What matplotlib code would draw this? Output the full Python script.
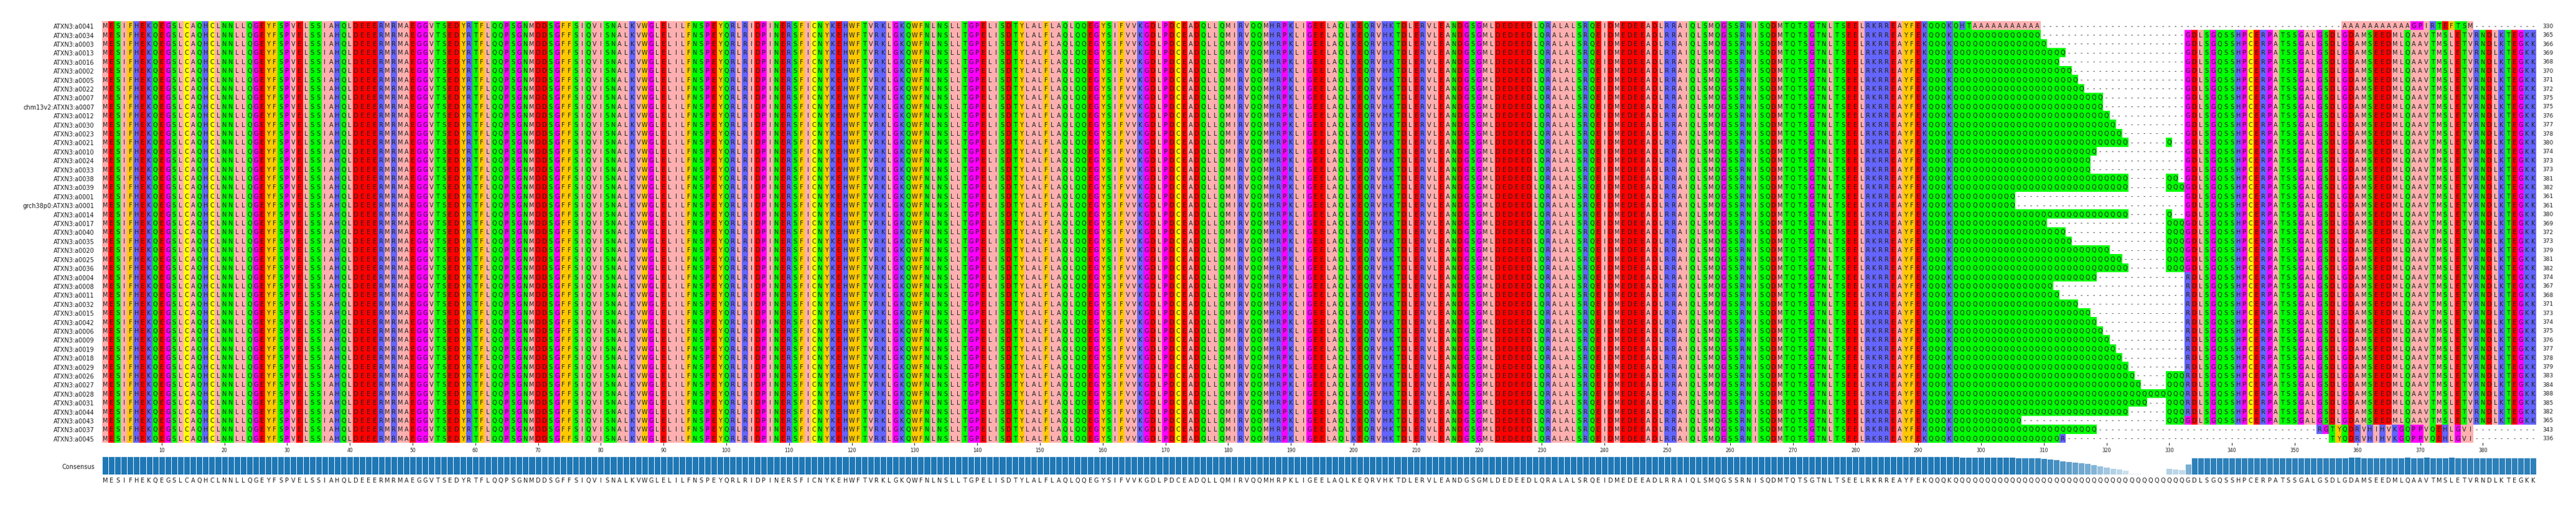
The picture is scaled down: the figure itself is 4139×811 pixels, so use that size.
import matplotlib
matplotlib.use("Agg")
import matplotlib.pyplot as plt
import numpy as np
from collections import Counter

W, H = 4139, 812
prefix = ("MESIFHEKQEGSLCAQHCLNNLLQGEYFSPVELSSIAHQLDEEERMRMAEGGVTSEDYRTFLQQPSGNMD"
          "DSGFFSIQVISNALKVWGLELILFNSPEYQRLRIDPINERSFICNYKEHWFTVRKLGKQWFNLNSLLTGP"
          "ELISDTYLALFLAQLQQEGYSIFVVKGDLPDCEADQLLQMIRVQQMHRPKLIGEELAQLKEQRVHKTDLE"
          "RVLEANDGSGMLDEDEEDLQRALALSRQEIDMEDEEADLRRAIQLSMQGSSRNISQDMTQTSGTNLTSEE"
          "LRKRREAYFEKQQQK")
tail_G = "GDLSGQSSHPCERPATSSGALGSDLGDAMSEEDMLQAAVTMSLETVRNDLKTEGKK"
tail_R = "R" + tail_G[1:]
NCOL = 388

labels = ["ATXN3:a0041", "ATXN3:a0034", "ATXN3:a0003", "ATXN3:a0013", "ATXN3:a0016",
          "ATXN3:a0002", "ATXN3:a0005", "ATXN3:a0022", "ATXN3:a0007", "chm13v2:ATXN3:a0007",
          "ATXN3:a0012", "ATXN3:a0030", "ATXN3:a0023", "ATXN3:a0021", "ATXN3:a0010",
          "ATXN3:a0024", "ATXN3:a0033", "ATXN3:a0038", "ATXN3:a0039", "ATXN3:a0001",
          "grch38p0:ATXN3:a0001", "ATXN3:a0014", "ATXN3:a0017", "ATXN3:a0040", "ATXN3:a0035",
          "ATXN3:a0020", "ATXN3:a0025", "ATXN3:a0036", "ATXN3:a0004", "ATXN3:a0008",
          "ATXN3:a0011", "ATXN3:a0032", "ATXN3:a0015", "ATXN3:a0042", "ATXN3:a0006",
          "ATXN3:a0009", "ATXN3:a0019", "ATXN3:a0018", "ATXN3:a0029", "ATXN3:a0026",
          "ATXN3:a0027", "ATXN3:a0028", "ATXN3:a0031", "ATXN3:a0044", "ATXN3:a0043",
          "ATXN3:a0037", "ATXN3:a0045"]
lengths = [330, 365, 366, 369, 368, 370, 371, 372, 375, 375, 376, 377, 378, 380, 374,
           373, 373, 381, 382, 361, 361, 380, 369, 372, 373, 379, 381, 382, 374, 367,
           368, 371, 373, 374, 375, 376, 377, 378, 379, 383, 384, 388, 385, 382, 365,
           343, 336]
extras = ["*", "", "", "", "", "", "", "", "", "", "", "", "", "Q--", "", "", "",
          "QQ-", "QQQ", "", "", "Q--", "QQQ", "QQQ", "QQQ", "QQQ", "QQQ", "QQQ",
          "", "", "", "", "", "", "", "", "", "", "", "QQQ", "QQQ", "QQQ", "QQQ", "QQQ",
          "QQQ", "*", "*"]
tails = ["*"] + ["G"] * 27 + ["R"] * 11 + ["R"] * 5 + ["G"] + ["*", "*"]
row1_ins = "QHT" + "A" * 11
row1_end = "AAAAAAAAAAAGPIRTEFTSM"
row46_end = "RGTYQDRVHIHVKGQPPVQEHLGVI"
row47_end = "TYQDRVHIHVKGQPPVQEHLGVI"


def place(seq, start, s):
    seq[start:start + len(s)] = list(s)


rows = []
for i, (L, ex, tl) in enumerate(zip(lengths, extras, tails)):
    seq = ["-"] * NCOL
    place(seq, 0, prefix)
    if i == 0:
        place(seq, 295, row1_ins)
        place(seq, 357, row1_end)
    elif i == 45:
        n = L - 295 - len(row46_end)
        place(seq, 295, "Q" * n)
        place(seq, 353, row46_end)
    elif i == 46:
        n = L - 295 - 1 - len(row47_end)
        place(seq, 295, "Q" * n + "R")
        place(seq, 355, row47_end)
    else:
        tail = tail_G if tl == "G" else tail_R
        n = L - 295 - len(ex.replace("-", "")) - len(tail)
        place(seq, 295, "Q" * n)
        if ex:
            place(seq, 329, ex)
        place(seq, NCOL - len(tail), tail)
    rows.append(seq)

cmap = {}
for c in "AVLIM": cmap[c] = "#ffafaf"
for c in "FWY": cmap[c] = "#ffc800"
for c in "KRH": cmap[c] = "#6464ff"
for c in "DE": cmap[c] = "#ff0000"
for c in "STNQ": cmap[c] = "#00ff00"
for c in "GP": cmap[c] = "#ff00ff"
cmap["C"] = "#ffff00"
cmap["-"] = "#ffffff"

nr = len(rows)
img = np.ones((nr, NCOL, 3))
for r, seq in enumerate(rows):
    for c, ch in enumerate(seq):
        img[r, c] = matplotlib.colors.to_rgb(cmap[ch])

fig = plt.figure(figsize=(W / 100, H / 100), dpi=100)
ax = fig.add_axes([164 / W, 1 - 712 / H, (4075 - 164) / W, (712 - 35) / H])
ax.imshow(img, aspect="auto", interpolation="nearest",
          extent=(0.5, NCOL + 0.5, nr + 0.5, 0.5))
for r, seq in enumerate(rows):
    for c, ch in enumerate(seq):
        ax.text(c + 1, r + 1, ch, ha="center", va="center",
                fontsize=6.5 if ch == "-" else 7, color="#222222",
                family="DejaVu Sans")
    ax.text(1.0 + 10 / (4075 - 164), 1 - (r + 0.5) / nr, str(lengths[r]),
            transform=ax.transAxes, ha="left", va="center", fontsize=6.5,
            color="#222222")
ax.set_xlim(0.5, NCOL + 0.5)
ax.set_ylim(nr + 0.5, 0.5)
ax.set_yticks(range(1, nr + 1))
ax.set_yticklabels(labels, fontsize=7, color="#222222")
ax.tick_params(axis="y", length=0, pad=9)
ax.set_xticks(range(10, NCOL, 10))
ax.set_xticklabels([str(t) for t in range(10, NCOL, 10)], fontsize=5.5, color="#222222")
ax.tick_params(axis="x", length=3, width=0.6, pad=2)
for s in ax.spines.values():
    s.set_visible(False)

# consensus
cons, frac = [], []
for c in range(NCOL):
    col = [rows[r][c] for r in range(nr) if rows[r][c] != "-"]
    ch, cnt = Counter(col).most_common(1)[0]
    cons.append(ch)
    frac.append(cnt / nr)

ax2 = fig.add_axes([164 / W, 1 - 763 / H, (4075 - 164) / W, 29 / H])
xs = np.arange(1, NCOL + 1)
ax2.bar(xs, frac, width=1.0, color=[(0.12, 0.47, 0.71, max(f, 0.12)) for f in frac],
        edgecolor="white", linewidth=0.6)
ax2.set_xlim(0.5, NCOL + 0.5)
ax2.set_ylim(0, 1)
ax2.axis("off")
for x, ch in zip(xs, cons):
    ax2.text(x, -0.32, ch, ha="center", va="center", fontsize=7, color="#222222")
ax2.text(-12 / (4075 - 164), 0.45, "Consensus", transform=ax2.transAxes,
         ha="right", va="center", fontsize=7, color="#222222")

fig.savefig("out.png", dpi=100)
